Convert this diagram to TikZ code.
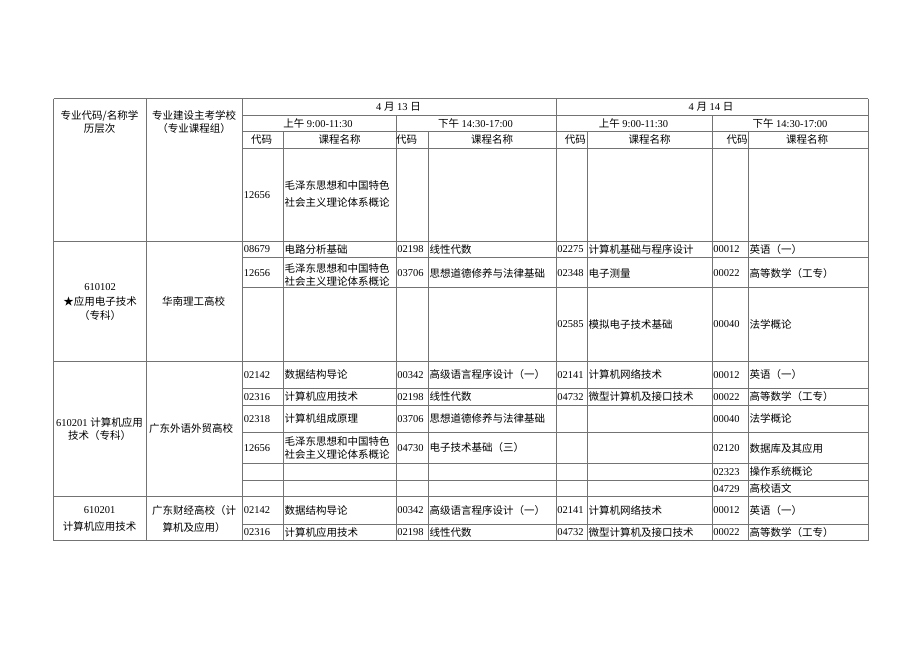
\documentclass[tikz,border=0pt]{standalone}
\usepackage{fontspec}
\setmainfont{Liberation Serif}
\newfontfamily\cjk{Noto Sans CJK SC}
\usetikzlibrary{positioning}
\tikzset{
	x=1pt, y=-1pt,
	rule/.style={draw=black!55, line width=0.8pt},
	txt/.style={inner sep=0pt, text=black, font=\fontsize{10.5}{13.3}\selectfont},
	cntxt/.style={txt, font=\cjk\fontsize{10.5}{13.3}\selectfont},
	codecell/.style={txt, anchor=west},
	namecell/.style={cntxt, anchor=west, align=left},
	headcell/.style={cntxt, align=center},
}

\begin{document}
\begin{tikzpicture}
			\useasboundingbox (0,0) rectangle (920,651);
			\fill[white] (0,0) rectangle (920,651);
			
			% grid of the table
			\foreach \x in {53.5,146,242.5,556,868} \draw[rule] (\x,98.5) -- (\x,540.7);
			\foreach \x in {396,712} \draw[rule] (\x,115) -- (\x,540.7);
			\foreach \x in {283,428,587,748} \draw[rule] (\x,131.5) -- (\x,540.7);
			\foreach \y in {98.5,241,361,496.7,540.7} \draw[rule] (53.5,\y) -- (868,\y);
			\foreach \y in {115,131.5,148,257.7,287.7,388.3,405,432.7,463.3,480,524.3} \draw[rule] (242.5,\y) -- (868,\y);
			
			% headings
			\node[headcell] (major) at (99.5,122.3) {专业代码/名称学\\历层次};
			\node[headcell] (school) at (194,122.3) {专业建设主考学校\\（专业课程组）};
			\node[txt] (day13) at (398.5,106.8) {4 {\cjk 月} 13 {\cjk 日}};
			\node[txt] (day14) at (711,106.8) {4 {\cjk 月} 14 {\cjk 日}};
			\node[txt] (am13) at (318,123.3) {{\cjk 上午} 9:00-11:30};
			\node[txt] (pm13) at (475.5,123.3) {{\cjk 下午} 14:30-17:00};
			\node[txt] (am14) at (633.5,123.3) {{\cjk 上午} 9:00-11:30};
			\node[txt] (pm14) at (790,123.3) {{\cjk 下午} 14:30-17:00};
			\node[cntxt] (code1) at (261.5,139.8) {代码};
			\node[cntxt] (course1) at (339.5,139.8) {课程名称};
			\node[cntxt] (code2) at (406.7,139.8) {代码};
			\node[cntxt] (course2) at (492,139.8) {课程名称};
			\node[cntxt] (code3) at (575.3,139.8) {代码};
			\node[cntxt] (course3) at (649.5,139.8) {课程名称};
			\node[cntxt] (code4) at (737,139.8) {代码};
			\node[cntxt] (course4) at (807,139.8) {课程名称};
			
			% common course
			\node[codecell] (c1a1) at (243.7,195) {12656};
			\node[namecell] (n1a1) at (284.3,194) {毛泽东思想和中国特色\\[3.4pt]社会主义理论体系概论};
			
			% 610102
			\node[txt, align=center] (major2) at (100,302.3) {610102\\[1.2pt]{\cjk ★应用电子技术}\\[1.2pt]{\cjk （专科）}};
			\node[cntxt] (school2) at (193.5,301.7) {华南理工高校};
			\node[codecell] (c2a1) at (243.7,249.4) {08679};
			\node[namecell] (n2a1) at (284.3,249.4) {电路分析基础};
			\node[codecell] (c2a2) at (397.2,249.4) {02198};
			\node[namecell] (n2a2) at (429.3,249.4) {线性代数};
			\node[codecell] (c2a3) at (557.2,249.4) {02275};
			\node[namecell] (n2a3) at (588.3,249.4) {计算机基础与程序设计};
			\node[codecell] (c2a4) at (713.2,249.4) {00012};
			\node[namecell] (n2a4) at (749.3,249.4) {英语（一）};
			\node[codecell] (c2b1) at (243.7,273.5) {12656};
			\node[namecell] (n2b1) at (284.3,275) {毛泽东思想和中国特色\\社会主义理论体系概论};
			\node[codecell] (c2b2) at (397.2,273.5) {03706};
			\node[namecell] (n2b2) at (429.3,273.5) {思想道德修养与法律基础};
			\node[codecell] (c2b3) at (557.2,273.5) {02348};
			\node[namecell] (n2b3) at (588.3,273.5) {电子测量};
			\node[codecell] (c2b4) at (713.2,273.5) {00022};
			\node[namecell] (n2b4) at (749.3,273.5) {高等数学（工专）};
			\node[codecell] (c2c3) at (557.2,324.5) {02585};
			\node[namecell] (n2c3) at (588.3,324.5) {模拟电子技术基础};
			\node[codecell] (c2c4) at (713.2,324.5) {00040};
			\node[namecell] (n2c4) at (749.3,324.5) {法学概论};
			
			% 610201 (GDUFS)
			\node[txt, align=center] (major3) at (99.5,428.8) {610201 {\cjk 计算机应用}\\{\cjk 技术（专科）}};
			\node[cntxt] (school3) at (191,429) {广东外语外贸高校};
			\node[codecell] (c3a1) at (243.7,374.7) {02142};
			\node[namecell] (n3a1) at (284.3,374.7) {数据结构导论};
			\node[codecell] (c3a2) at (397.2,374.7) {00342};
			\node[namecell] (n3a2) at (429.3,374.7) {高级语言程序设计（一）};
			\node[codecell] (c3a3) at (557.2,374.7) {02141};
			\node[namecell] (n3a3) at (588.3,374.7) {计算机网络技术};
			\node[codecell] (c3a4) at (713.2,374.7) {00012};
			\node[namecell] (n3a4) at (749.3,374.7) {英语（一）};
			\node[codecell] (c3b1) at (243.7,396.7) {02316};
			\node[namecell] (n3b1) at (284.3,396.7) {计算机应用技术};
			\node[codecell] (c3b2) at (397.2,396.7) {02198};
			\node[namecell] (n3b2) at (429.3,396.7) {线性代数};
			\node[codecell] (c3b3) at (557.2,396.7) {04732};
			\node[namecell] (n3b3) at (588.3,396.7) {微型计算机及接口技术};
			\node[codecell] (c3b4) at (713.2,396.7) {00022};
			\node[namecell] (n3b4) at (749.3,396.7) {高等数学（工专）};
			\node[codecell] (c3c1) at (243.7,418.8) {02318};
			\node[namecell] (n3c1) at (284.3,418.8) {计算机组成原理};
			\node[codecell] (c3c2) at (397.2,418.8) {03706};
			\node[namecell] (n3c2) at (429.3,418.8) {思想道德修养与法律基础};
			\node[codecell] (c3c4) at (713.2,418.8) {00040};
			\node[namecell] (n3c4) at (749.3,418.8) {法学概论};
			\node[codecell] (c3d1) at (243.7,448) {12656};
			\node[namecell] (n3d1) at (284.3,448) {毛泽东思想和中国特色\\社会主义理论体系概论};
			\node[codecell] (c3d2) at (397.2,448) {04730};
			\node[namecell] (n3d2) at (429.3,448) {电子技术基础（三）};
			\node[codecell] (c3d4) at (713.2,448) {02120};
			\node[namecell] (n3d4) at (749.3,448) {数据库及其应用};
			\node[codecell] (c3e4) at (713.2,471.7) {02323};
			\node[namecell] (n3e4) at (749.3,471.7) {操作系统概论};
			\node[codecell] (c3f4) at (713.2,488.6) {04729};
			\node[namecell] (n3f4) at (749.3,488.6) {高校语文};
			
			% 610201 (GDUFE)
			\node[txt, align=center] (major4) at (99.5,519) {610201\\[3.3pt]{\cjk 计算机应用技术}};
			\node[headcell] (school4) at (194,519) {广东财经高校（计\\[3.3pt]算机及应用）};
			\node[codecell] (c4a1) at (243.7,510.5) {02142};
			\node[namecell] (n4a1) at (284.3,510.5) {数据结构导论};
			\node[codecell] (c4a2) at (397.2,510.5) {00342};
			\node[namecell] (n4a2) at (429.3,510.5) {高级语言程序设计（一）};
			\node[codecell] (c4a3) at (557.2,510.5) {02141};
			\node[namecell] (n4a3) at (588.3,510.5) {计算机网络技术};
			\node[codecell] (c4a4) at (713.2,510.5) {00012};
			\node[namecell] (n4a4) at (749.3,510.5) {英语（一）};
			\node[codecell] (c4b1) at (243.7,532.3) {02316};
			\node[namecell] (n4b1) at (284.3,532.3) {计算机应用技术};
			\node[codecell] (c4b2) at (397.2,532.3) {02198};
			\node[namecell] (n4b2) at (429.3,532.3) {线性代数};
			\node[codecell] (c4b3) at (557.2,532.3) {04732};
			\node[namecell] (n4b3) at (588.3,532.3) {微型计算机及接口技术};
			\node[codecell] (c4b4) at (713.2,532.3) {00022};
			\node[namecell] (n4b4) at (749.3,532.3) {高等数学（工专）};
		\end{tikzpicture}
\end{document}
